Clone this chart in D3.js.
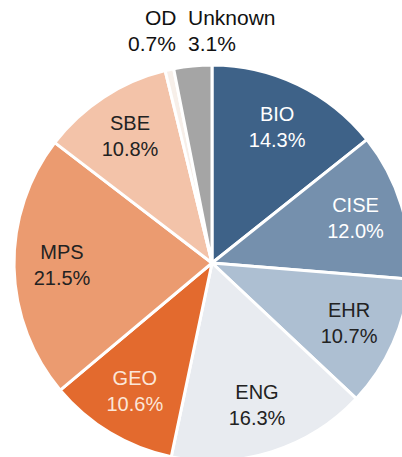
<!DOCTYPE html>
<html>
<head>
<meta charset="utf-8">
<script src="https://cdn.jsdelivr.net/npm/d3@7"></script>
<style>
  body { margin: 0; background: #fff; }
  svg { display: block; font-family: "Liberation Sans", Arial, sans-serif; }
</style>
</head>
<body>
<div id="chart"></div>
<script>
// directorates, clockwise from 12 o'clock
var labels = ["BIO", "CISE", "EHR", "ENG", "GEO", "MPS", "SBE", "OD", "Unknown"];
var shares = [14.3, 12.0, 10.7, 16.3, 10.6, 21.5, 10.8, 0.7, 3.1];
var fills = ["#3e6288", "#7590ad", "#adbfd2", "#e8ebf0", "#e36a2e", "#eb9b70", "#f3c3a9", "#f7efe9", "#a5a5a5"];
var textColors = ["#ffffff", "#ffffff", "#222222", "#222222", "#fbe6d8", "#222222", "#222222", "#222222", "#222222"];

var width = 402, height = 457;
var cx = 212, cy = 263, radius = 198;

var data = labels.map(function(d, i) {
  return { name: d, value: shares[i], fill: fills[i], color: textColors[i] };
});

var svg = d3
  .select("#chart")
  .append("svg")
  .attr("width", width)
  .attr("height", height);

var g = svg.append("g").attr("transform", "translate(" + cx + "," + cy + ")");

var pie = d3
  .pie()
  .sort(null)
  .value(function(d) {
    return d.value;
  });

var arc = d3.arc().innerRadius(0).outerRadius(radius);
var labelArc = d3.arc().innerRadius(150).outerRadius(150);

var arcs = pie(data);

// slices
g.selectAll(".slice")
  .data(arcs)
  .enter()
  .append("path")
  .attr("class", "slice")
  .attr("d", arc)
  .style("fill", function(d) {
    return d.data.fill;
  })
  .style("stroke", "#fff")
  .style("stroke-width", 3)
  .style("stroke-linejoin", "round");

// in-slice labels (the two small ones go on top)
var inside = arcs.filter(function(d) {
  return d.data.value > 5;
});

var lbl = g
  .selectAll(".lbl")
  .data(inside)
  .enter()
  .append("text")
  .attr("class", "lbl")
  .attr("transform", function(d) {
    return "translate(" + labelArc.centroid(d) + ")";
  })
  .attr("text-anchor", "middle")
  .style("font-size", "20px")
  .style("fill", function(d) {
    return d.data.color;
  });

lbl
  .append("tspan")
  .attr("x", 0)
  .attr("y", -7)
  .text(function(d) {
    return d.data.name;
  });
lbl
  .append("tspan")
  .attr("x", 0)
  .attr("y", 19)
  .text(function(d) {
    return d.data.value.toFixed(1) + "%";
  });

// top labels for OD and Unknown
var small = arcs.filter(function(d) {
  return d.data.value <= 5;
});

var topLbl = svg
  .selectAll(".toplbl")
  .data(small)
  .enter()
  .append("text")
  .attr("class", "toplbl")
  .attr("text-anchor", "start")
  .style("font-size", "21px")
  .style("fill", "#111");

topLbl
  .append("tspan")
  .attr("x", function(d) {
    return d.data.name == "OD" ? 145 : 188;
  })
  .attr("y", 25)
  .text(function(d) {
    return d.data.name;
  });
topLbl
  .append("tspan")
  .attr("x", function(d) {
    return d.data.name == "OD" ? 128 : 188;
  })
  .attr("y", 51)
  .text(function(d) {
    return d.data.value.toFixed(1) + "%";
  });
</script>
</body>
</html>
